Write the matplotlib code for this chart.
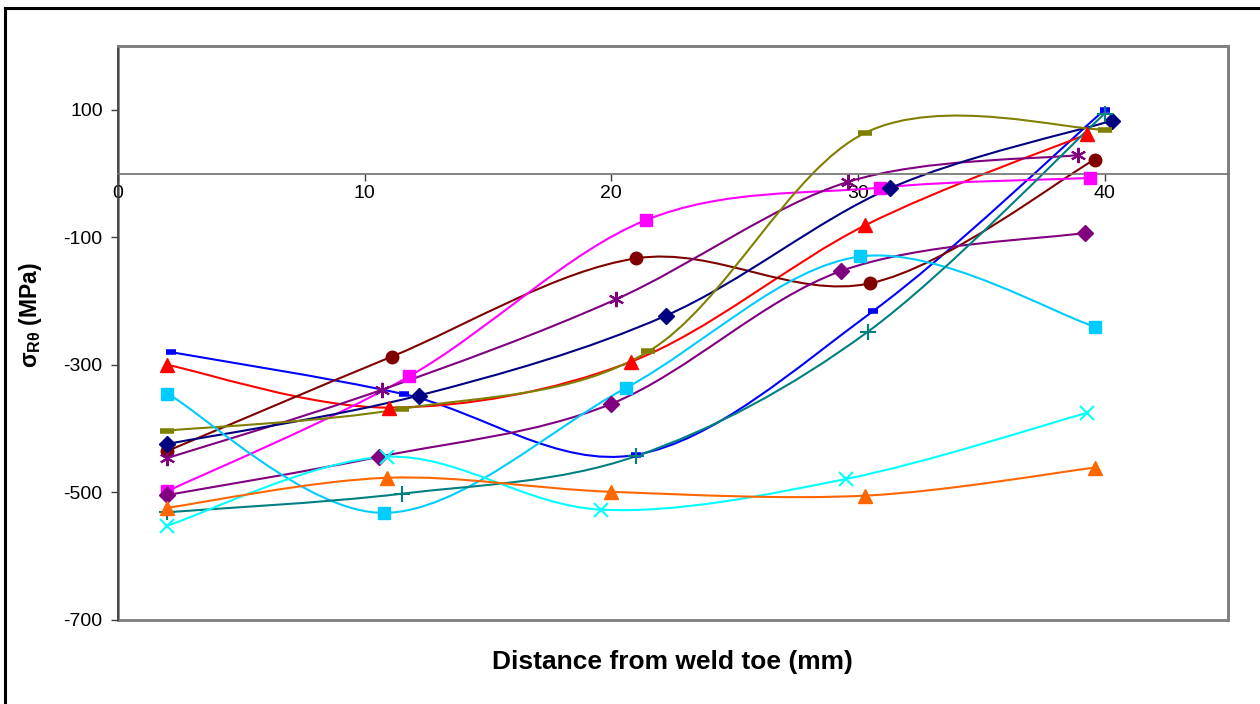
import matplotlib
matplotlib.use("Agg")
import matplotlib.pyplot as plt
from matplotlib.path import Path
from matplotlib.patches import PathPatch, Rectangle
from matplotlib.lines import Line2D

plt.rcParams['font.family'] = ['Liberation Sans', 'DejaVu Sans']
plt.rcParams['mathtext.fontset'] = 'custom'
plt.rcParams['mathtext.rm'] = 'Liberation Sans:bold'
plt.rcParams['mathtext.it'] = 'Liberation Sans:bold'
plt.rcParams['mathtext.bf'] = 'Liberation Sans:bold'

# ---- data (distance mm, stress MPa) ----
blue_x = [2.15, 11.6, 21.0, 30.6, 40.0]
blue_y = [-280, -346, -441, -216, 100]
red_x = [2.0, 11.0, 20.8, 30.3, 39.3]
red_y = [-300, -367, -295, -81, 62]
maroon_x = [2.0, 11.1, 21.0, 30.5, 39.6]
maroon_y = [-435, -287, -133, -172, 22]
magenta_x = [2.0, 11.8, 21.4, 30.9, 39.4]
magenta_y = [-498, -318, -73, -22, -7]
purple_ast_x = [2.0, 10.7, 20.2, 29.6, 38.9]
purple_ast_y = [-446, -339, -197, -13, 29]
navy_x = [2.0, 12.2, 22.2, 31.3, 40.3]
navy_y = [-424, -348, -223, -23, 83]
olive_x = [2.0, 11.5, 21.5, 30.3, 40.0]
olive_y = [-403, -369, -279, 64, 69]
purple_dia_x = [2.0, 10.6, 20.0, 29.3, 39.2]
purple_dia_y = [-504, -444, -361, -153, -93]
sky_x = [2.0, 10.8, 20.6, 30.1, 39.6]
sky_y = [-345, -532, -336, -130, -240]
teal_x = [2.0, 11.5, 21.0, 30.4, 40.0]
teal_y = [-531, -502, -443, -248, 94]
cyan_x = [2.0, 10.9, 19.6, 29.5, 39.3]
cyan_y = [-552, -444, -527, -479, -375]
orange_x = [2.0, 10.9, 20.0, 30.3, 39.6]
orange_y = [-524, -477, -499, -505, -461]

x_ticks = [0, 10, 20, 30, 40]
y_ticks = [-700, -500, -300, -100, 100]

series = [
    (blue_x, blue_y, '#0000FF', dict(marker='_', ms=7, mew=4)),
    (red_x, red_y, '#FF0000', dict(marker='^', ms=10)),
    (maroon_x, maroon_y, '#800000', dict(marker='o', ms=9)),
    (magenta_x, magenta_y, '#FF00FF', dict(marker='s', ms=9)),
    (purple_ast_x, purple_ast_y, '#800080', dict(marker=(6, 2, 0), ms=11, mew=1.5)),
    (navy_x, navy_y, '#000080', dict(marker='D', ms=8)),
    (olive_x, olive_y, '#808000', dict(marker='_', ms=10, mew=4)),
    (purple_dia_x, purple_dia_y, '#800080', dict(marker='D', ms=8)),
    (sky_x, sky_y, '#00CCFF', dict(marker='s', ms=9)),
    (teal_x, teal_y, '#008080', dict(marker='+', ms=11, mew=1.5)),
    (cyan_x, cyan_y, '#00FFFF', dict(marker='x', ms=10, mew=1.5)),
    (orange_x, orange_y, '#FF6600', dict(marker='^', ms=10)),
]


def smooth_path(xs, ys):
    pts = list(zip(xs, ys))
    n = len(pts)
    verts = [pts[0]]
    codes = [Path.MOVETO]
    for i in range(n - 1):
        p0 = pts[i - 1] if i > 0 else pts[i]
        p1 = pts[i]
        p2 = pts[i + 1]
        p3 = pts[i + 2] if i + 2 < n else pts[i + 1]
        c1 = (p1[0] + (p2[0] - p0[0]) / 6.0, p1[1] + (p2[1] - p0[1]) / 6.0)
        c2 = (p2[0] - (p3[0] - p1[0]) / 6.0, p2[1] - (p3[1] - p1[1]) / 6.0)
        verts += [c1, c2, p2]
        codes += [Path.CURVE4] * 3
    return Path(verts, codes)


fig = plt.figure(figsize=(12.6, 7.04), dpi=100)
ax = fig.add_axes([118 / 1260, 1 - 620 / 704, 1110 / 1260, 574 / 704])

for xs, ys, col, mk in series:
    ax.add_patch(PathPatch(smooth_path(xs, ys), fill=False, edgecolor=col,
                           lw=1.5, zorder=2))
    ax.plot(xs, ys, linestyle='none', color=col, mec=col, mfc=col, zorder=3,
            clip_on=False, **mk)

ax.set_xlim(0, 45)
ax.set_ylim(-700, 200)

# x axis crosses at y = 0
ax.spines['bottom'].set_position(('data', 0))
ax.spines['bottom'].set_color('#707070')
ax.spines['bottom'].set_linewidth(1.2)
ax.spines['left'].set_color('#404040')
ax.spines['left'].set_linewidth(1.2)
for s in ('top', 'right'):
    ax.spines[s].set_color('#808080')
    ax.spines[s].set_linewidth(2)
ax.add_patch(Rectangle((0, 0), 1, 1, transform=ax.transAxes, fill=False,
                       edgecolor='#808080', lw=2, clip_on=False, zorder=1))

ax.set_xticks(x_ticks)
ax.set_yticks(y_ticks)
ax.set_xticklabels([str(t) for t in x_ticks])
ax.set_yticklabels([str(t) for t in y_ticks])
ax.tick_params(axis='both', direction='out', length=5, width=1, labelsize=14,
               color='#404040')
ax.tick_params(axis='x', pad=3)
ax.tick_params(axis='y', pad=6)

fig.text(672 / 1260, 1 - 662 / 704, 'Distance from weld toe (mm)',
         ha='center', va='center', fontsize=19, fontweight='bold')
fig.text(31 / 1260, 1 - 315 / 704, r'$\sigma_{R\theta}$ (MPa)',
         ha='center', va='center', rotation=90, fontsize=16.5,
         fontweight='bold')

# outer chart border (top and left visible)
fig.add_artist(Line2D([5 / 1260, 5 / 1260], [0, 1 - 8 / 704],
                      transform=fig.transFigure, color='black', lw=2.2))
fig.add_artist(Line2D([5 / 1260, 1], [1 - 8 / 704, 1 - 8 / 704],
                      transform=fig.transFigure, color='black', lw=2.2))

fig.savefig('out.png', dpi=100, facecolor='white')
